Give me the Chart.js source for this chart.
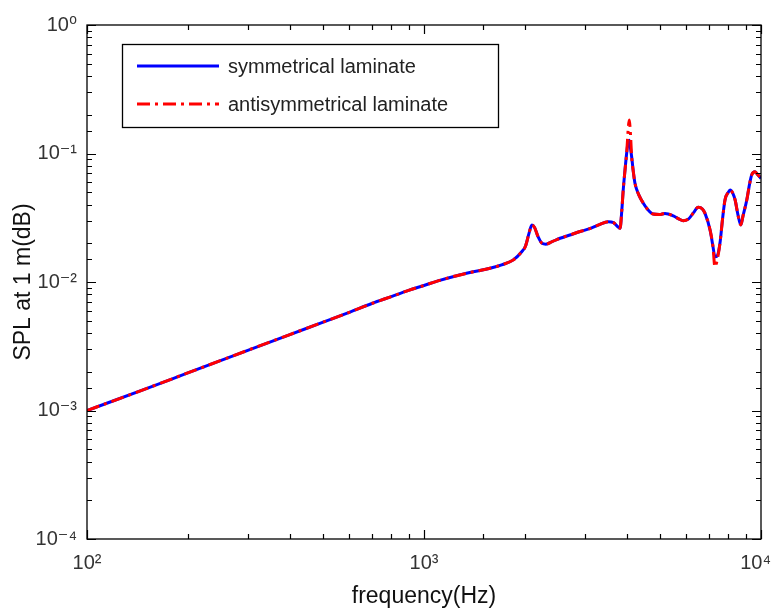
<!DOCTYPE html>
<html>
<head>
<meta charset="utf-8">
<script src="https://cdn.jsdelivr.net/npm/chart.js@4/dist/chart.umd.min.js"></script>
<style>
html,body{margin:0;padding:0;background:#fff;}
#wrap{width:774px;height:610px;}
</style>
</head>
<body>
<div id="wrap"><canvas id="c" width="774" height="610"></canvas></div>
<script>
// ---- data ----
const frequencies = [100,150,200,300,400,500,600,700,800,900,1000,1100,1250,1400,1570,1700,1837,1950,2000,2050,2090,2130,2180,2240,2300,2400,2534,2710,2905,3100,3300,3524,3650,3818,3860,3901,3950,3993,4040,4066,4100,4133,4180,4227,4350,4475,4600,4788,5000,5188,5495,5700,5879,6100,6300,6511,6700,6822,7061,7200,7300,7420,7554,7700,7819,8000,8094,8250,8378,8550,8710,8850,9074,9250,9383,9600,9800,10000];
const symmetrical = [0.001,0.00148,0.00197,0.00294,0.0039,0.00485,0.0058,0.0068,0.0077,0.0086,0.0094,0.0102,0.0112,0.0120,0.0128,0.0136,0.0148,0.0172,0.0190,0.0240,0.0278,0.0265,0.0225,0.0200,0.0197,0.0206,0.0219,0.0232,0.0247,0.0260,0.0278,0.0295,0.0290,0.0262,0.0350,0.0520,0.0750,0.100,0.125,0.127,0.110,0.094,0.072,0.0586,0.047,0.041,0.037,0.0338,0.0335,0.0342,0.0327,0.031,0.030,0.031,0.0345,0.0381,0.037,0.0342,0.0254,0.019,0.0157,0.016,0.020,0.032,0.0435,0.050,0.052,0.049,0.0435,0.033,0.0278,0.033,0.0435,0.058,0.068,0.072,0.068,0.064];
const antisymmetrical = [0.001,0.00148,0.00197,0.00294,0.0039,0.00485,0.0058,0.0068,0.0077,0.0086,0.0094,0.0102,0.0112,0.0120,0.0128,0.0136,0.0148,0.0172,0.0190,0.0240,0.0278,0.0265,0.0225,0.0200,0.0197,0.0206,0.0219,0.0232,0.0247,0.0260,0.0278,0.0295,0.0290,0.0262,0.0350,0.0520,0.0750,0.100,0.160,0.182,0.140,0.094,0.072,0.0586,0.047,0.041,0.037,0.0338,0.0335,0.0342,0.0327,0.031,0.030,0.031,0.0345,0.0381,0.037,0.0342,0.0254,0.019,0.0131,0.015,0.020,0.032,0.0435,0.050,0.052,0.049,0.0435,0.033,0.0278,0.033,0.0435,0.058,0.068,0.072,0.068,0.064];
const seriesNames = ['symmetrical laminate','antisymmetrical laminate'];
const xTickLabels = {'2':'10\u00B2','3':'10\u00B3','4':'10\u2074'};
const yTickLabels = {'-4':'10\u207B\u2074','-3':'10\u207B\u00B3','-2':'10\u207B\u00B2','-1':'10\u207B\u00B9','0':'10\u2070'};
const xTitle = 'frequency(Hz)';
const yTitle = 'SPL at 1 m(dB)';

const FONT = "'Liberation Sans', Arial, 'DejaVu Sans', sans-serif";

function powerOf(v){
  const l = Math.log10(v);
  const r = Math.round(l);
  return Math.abs(l - r) < 1e-6 ? r : null;
}

// keep the last x label inside the canvas (as in the reference)
const keepLastLabelInside = {
  id: 'keepLastLabelInside',
  beforeDraw(chart){
    const xs = chart.scales.x;
    const items = xs.getLabelItems(chart.chartArea);
    for (let i = items.length - 1; i >= 0; i--) {
      const it = items[i];
      if (it.label && it.label !== '') {
        it.options.textAlign = 'right';
        it.options.translation = [chart.width - 3, it.options.translation[1]];
        break;
      }
    }
  }
};

const frameAndLegend = {
  id: 'frameAndLegend',
  afterDatasetsDraw(chart){
    const ctx = chart.ctx;
    const a = chart.chartArea;
    const xs = chart.scales.x, ys = chart.scales.y;
    ctx.save();
    ctx.strokeStyle = '#000';
    ctx.lineWidth = 1.3;
    ctx.strokeRect(a.left, a.top, a.right - a.left, a.bottom - a.top);
    ctx.lineWidth = 1.2;
    ctx.beginPath();
    xs.ticks.forEach(t => {
      const p = Math.round(xs.getPixelForValue(t.value)) + 0.5;
      const len = powerOf(t.value) !== null ? 9 : 5;
      ctx.moveTo(p, a.bottom); ctx.lineTo(p, a.bottom - len);
      ctx.moveTo(p, a.top); ctx.lineTo(p, a.top + len);
    });
    ys.ticks.forEach(t => {
      const p = Math.round(ys.getPixelForValue(t.value)) + 0.5;
      const len = powerOf(t.value) !== null ? 9 : 5;
      ctx.moveTo(a.left, p); ctx.lineTo(a.left + len, p);
      ctx.moveTo(a.right, p); ctx.lineTo(a.right - len, p);
    });
    ctx.stroke();

    // legend
    const lx = 122, ly = 44, lw = 376, lh = 83;
    ctx.fillStyle = '#fff';
    ctx.fillRect(lx, ly, lw, lh);
    ctx.lineWidth = 1.3;
    ctx.strokeStyle = '#000';
    ctx.strokeRect(lx + 0.5, ly + 0.5, lw, lh);
    const ds = chart.data.datasets;
    const rows = [66, 104];
    ds.forEach((d, i) => {
      ctx.save();
      ctx.strokeStyle = d.borderColor;
      ctx.lineWidth = 3;
      ctx.setLineDash(d.borderDash || []);
      ctx.beginPath();
      ctx.moveTo(137, rows[i]); ctx.lineTo(219, rows[i]);
      ctx.stroke();
      ctx.restore();
      ctx.fillStyle = '#222';
      ctx.font = '20px ' + FONT;
      ctx.textBaseline = 'middle';
      ctx.textAlign = 'left';
      ctx.fillText(d.label, 228, rows[i] + 1);
    });
    ctx.restore();
  }
};

const toPoints = vals => frequencies.map((f, i) => ({x: f, y: vals[i]}));

new Chart(document.getElementById('c'), {
  type: 'line',
  data: {
    datasets: [
      {label: seriesNames[0], order: 1, data: toPoints(symmetrical), borderColor: '#0000ff', borderWidth: 3, pointRadius: 0, cubicInterpolationMode: 'monotone', fill: false},
      {label: seriesNames[1], order: 0, data: toPoints(antisymmetrical), borderColor: '#ff0000', borderWidth: 3, borderDash: [13, 5, 3, 5], pointRadius: 0, cubicInterpolationMode: 'monotone', fill: false}
    ]
  },
  options: {
    responsive: false,
    animation: false,
    devicePixelRatio: 1,
    layout: {padding: {top: 25, right: 13, left: 0, bottom: 0}},
    plugins: {legend: {display: false}, tooltip: {enabled: false}, title: {display: false}},
    scales: {
      x: {
        type: 'logarithmic', position: 'bottom', min: 100, max: 10000,
        afterFit: s => { s.height = 71; s.paddingLeft = 0; s.paddingRight = 0; },
        grid: {display: false, drawTicks: false},
        border: {display: false},
        ticks: {autoSkip: false, maxRotation: 0, minRotation: 0, padding: 12, color: '#333',
          font: {family: FONT, size: 20},
          callback: (v) => { const p = powerOf(v); return p === null ? '' : xTickLabels[String(p)]; }},
        title: {display: true, text: xTitle, color: '#111', font: {family: FONT, size: 23}, padding: {top: 0, bottom: 0}}
      },
      y: {
        type: 'logarithmic', position: 'left', min: 0.0001, max: 1,
        afterFit: s => { s.width = 87; s.paddingTop = 0; s.paddingBottom = 0; },
        grid: {display: false, drawTicks: false},
        border: {display: false},
        ticks: {autoSkip: false, padding: 10, color: '#333',
          font: {family: FONT, size: 20},
          callback: (v) => { const p = powerOf(v); return p === null ? '' : yTickLabels[String(p)]; }},
        title: {display: true, text: yTitle, color: '#111', font: {family: FONT, size: 23}, padding: {top: 10, bottom: 0}}
      }
    }
  },
  plugins: [keepLastLabelInside, frameAndLegend]
});
</script>
</body>
</html>
